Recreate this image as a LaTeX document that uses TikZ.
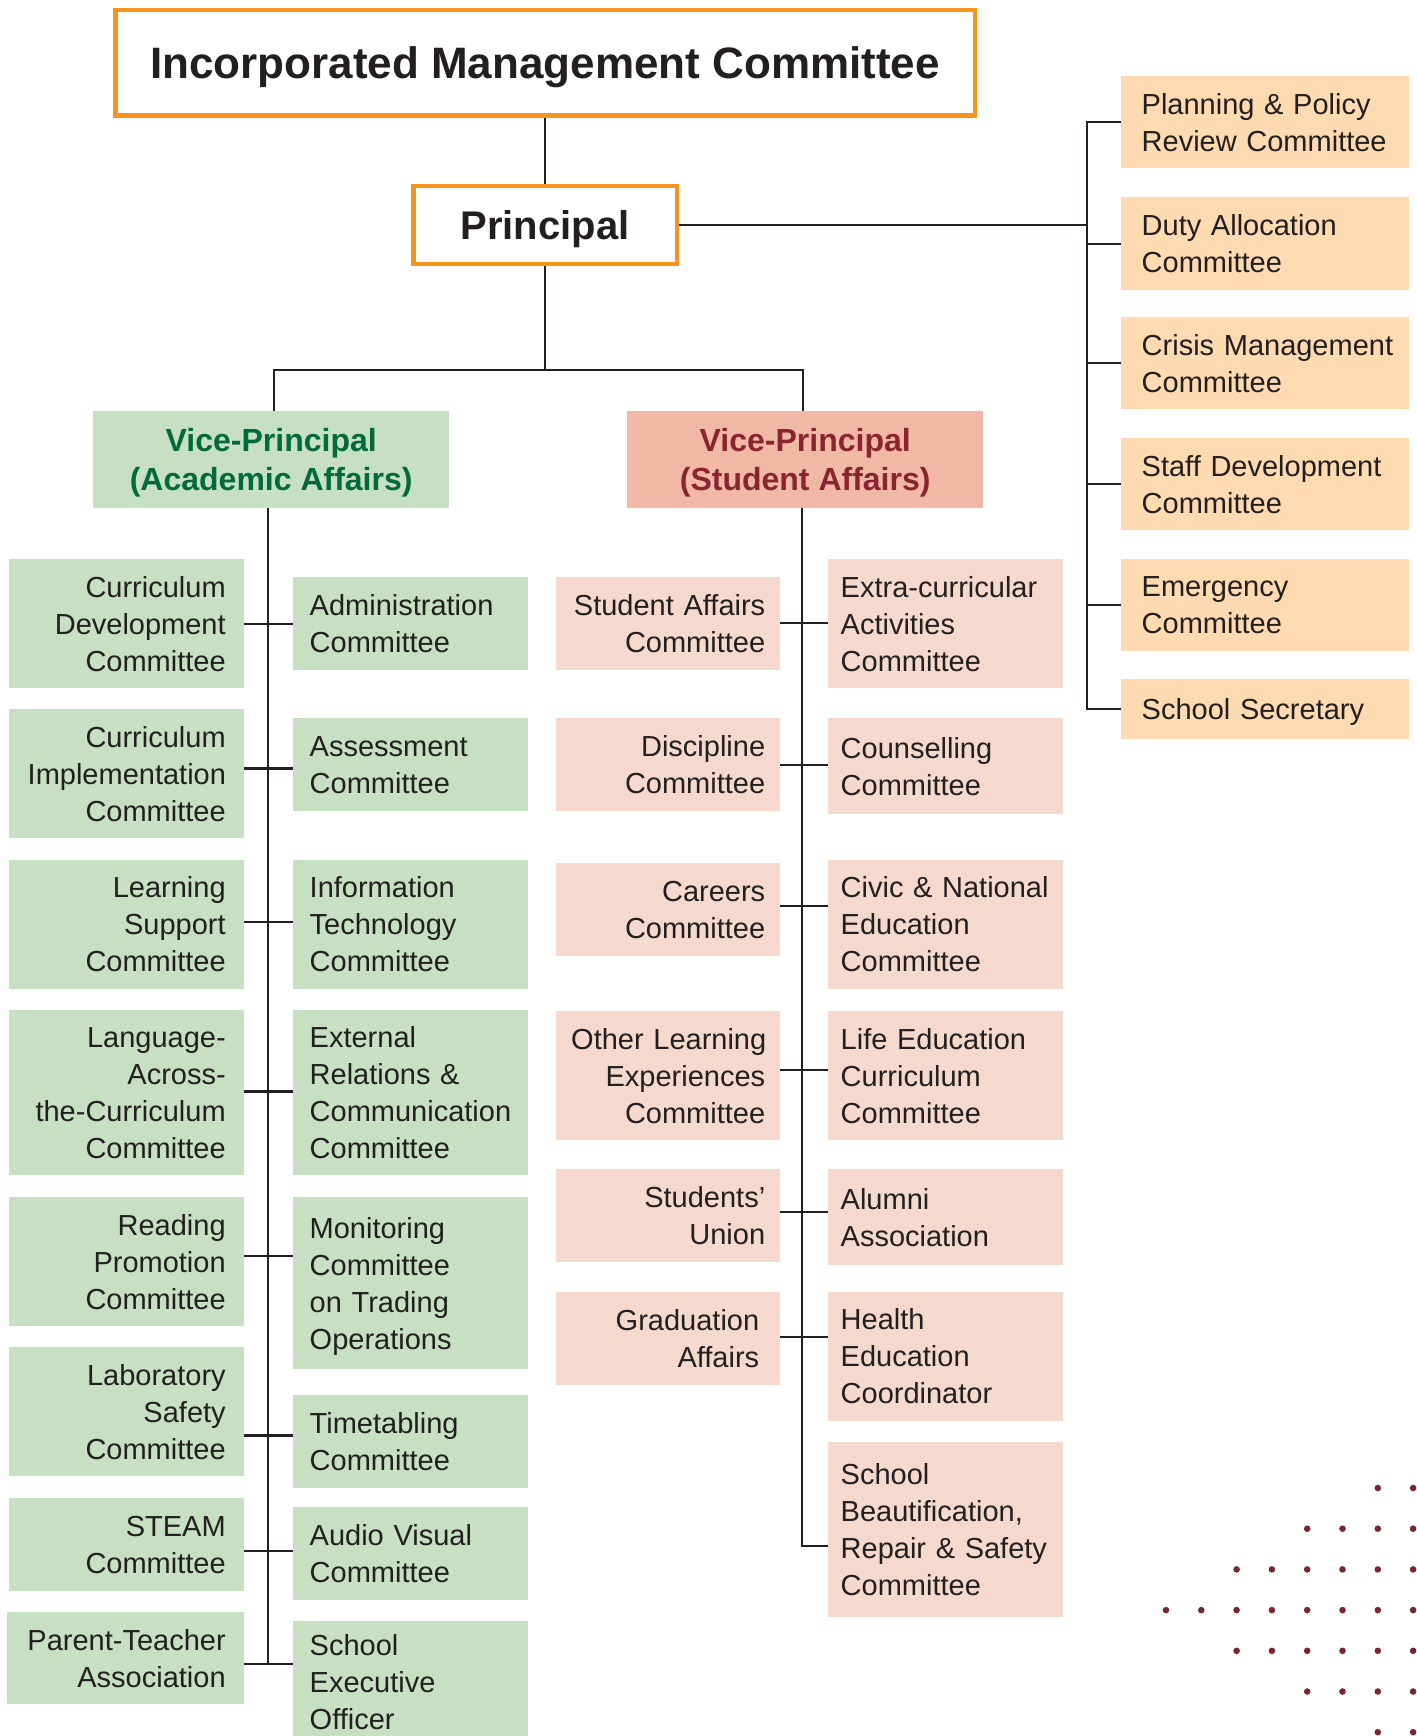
\documentclass[tikz,border=0pt]{standalone}
\usepackage{fontspec}
\setmainfont{Liberation Sans}
\usetikzlibrary{backgrounds}
\definecolor{txt}{HTML}{231F20}
\definecolor{linec}{HTML}{231F20}
\definecolor{orangeb}{HTML}{F7941D}
\definecolor{gfill}{HTML}{C7E0C1}
\definecolor{pfill}{HTML}{F6D9CD}
\definecolor{vpsfill}{HTML}{F0B8A5}
\definecolor{ofill}{HTML}{FDDAB0}
\definecolor{gtext}{HTML}{006A3A}
\definecolor{mtext}{HTML}{8A2430}
\definecolor{dotc}{HTML}{7B2530}
\hyphenpenalty=10000
\exhyphenpenalty=10000
\begin{document}
\begin{tikzpicture}[x=1pt,y=-1pt,
  conn/.style={draw=linec, line width=2.2pt},
  base/.style={inner ysep=0pt, anchor=north west, text=txt,
    font=\fontsize{29}{37}\selectfont},
  lg/.style={base, fill=gfill, minimum width=235, inner xsep=18.5pt, text width=198pt, align=right},
  rg/.style={base, fill=gfill, minimum width=235, inner xsep=16.5pt, text width=202pt, align=left},
  lp/.style={base, fill=pfill, minimum width=224, inner xsep=15pt, text width=194pt, align=right},
  rp/.style={base, fill=pfill, minimum width=235, inner xsep=12.5pt, text width=210pt, align=left},
  ob/.style={base, fill=ofill, minimum width=288, inner xsep=20.5pt, text width=247pt, align=left},
  topbox/.style={draw=orangeb, line width=4.5pt, fill=white, text=txt, inner sep=0pt, text depth=0pt},
  vpbox/.style={anchor=north west, minimum width=356, minimum height=96.5, inner sep=0pt,
    align=center, text depth=0pt, font=\fontsize{32}{39.5}\selectfont\bfseries},
]
\useasboundingbox (0,0) rectangle (1416,1736);

% top
\node[topbox, minimum width=859.5, minimum height=105.5, font=\fontsize{44}{52}\selectfont\bfseries] (imc) at (545,63) {Incorporated Management Committee};
\node[topbox, minimum width=263.5, minimum height=77.5, font=\fontsize{40}{48}\selectfont\bfseries] (pr) at (545,225) {Principal};

% vice-principals
\node[vpbox, fill=gfill, text=gtext] (vpa) at (93,411) {Vice-Principal\\(Academic Affairs)};
\node[vpbox, fill=vpsfill, text=mtext] (vps) at (627,411) {Vice-Principal\\(Student Affairs)};

% academic - left
\node[lg, minimum height=129] (cd) at (9,559) {Curriculum\\Development\\Committee};
\node[lg, minimum height=129] (ci) at (9,709) {Curriculum\\Implementation\\Committee};
\node[lg, minimum height=128.5] (ls) at (9,860) {Learning\\Support\\Committee};
\node[lg, minimum height=165] (lac) at (9,1010) {Language-\\Across-\\the-Curriculum\\Committee};
\node[lg, minimum height=129] (rpc) at (9,1197) {Reading\\Promotion\\Committee};
\node[lg, minimum height=129] (lab) at (9,1347) {Laboratory\\Safety\\Committee};
\node[lg, minimum height=93] (steam) at (9,1498) {STEAM\\Committee};
\node[lg, minimum height=92, minimum width=237, text width=200pt] (pta) at (7,1612) {Parent-Teacher\\Association};

% academic - right
\node[rg, minimum height=93] (adm) at (293,577) {Administration\\Committee};
\node[rg, minimum height=93] (ass) at (293,718) {Assessment\\Committee};
\node[rg, minimum height=128.5] (it) at (293,860) {Information\\Technology\\Committee};
\node[rg, minimum height=165] (ext) at (293,1010) {External\\Relations~\&\\Communication\\Committee};
\node[rg, minimum height=172, text depth=111pt] (mon) at (293,1197) {Monitoring\\Committee\\on~Trading\\Operations};
\node[rg, minimum height=93] (tt) at (293,1395) {Timetabling\\Committee};
\node[rg, minimum height=93] (av) at (293,1507) {Audio~Visual\\Committee};
\node[rg, minimum height=122] (seo) at (293,1621) {School\\Executive\\Officer};

% student - left
\node[lp, minimum height=93] (sa) at (556,577) {Student~Affairs\\Committee};
\node[lp, minimum height=93] (dis) at (556,718) {Discipline\\Committee};
\node[lp, minimum height=93] (car) at (556,863) {Careers\\Committee};
\node[lp, minimum height=129] (ole) at (556,1011) {Other~Learning\\Experiences\\Committee};
\node[lp, minimum height=93] (su) at (556,1169) {Students’\\Union};
\node[lp, minimum height=93, inner xsep=21pt, text width=182pt] (ga) at (556,1292) {Graduation\\Affairs};

% student - right
\node[rp, minimum height=129] (eca) at (828,559) {Extra-curricular\\Activities\\Committee};
\node[rp, minimum height=96] (cou) at (828,718) {Counselling\\Committee};
\node[rp, minimum height=128.5] (civ) at (828,860) {Civic~\&~National\\Education\\Committee};
\node[rp, minimum height=129] (life) at (828,1011) {Life~Education\\Curriculum\\Committee};
\node[rp, minimum height=96] (alu) at (828,1169) {Alumni\\Association};
\node[rp, minimum height=128.5] (hea) at (828,1292) {Health\\Education\\Coordinator};
\node[rp, minimum height=175] (sb) at (828,1442) {School\\Beautification,\\Repair~\&~Safety\\Committee};

% committees under principal
\node[ob, minimum height=92] (p1) at (1121,76) {Planning~\&~Policy\\Review~Committee};
\node[ob, minimum height=93] (p2) at (1121,197) {Duty~Allocation\\Committee};
\node[ob, minimum height=92] (p3) at (1121,317) {Crisis~Management\\Committee};
\node[ob, minimum height=92] (p4) at (1121,438) {Staff~Development\\Committee};
\node[ob, minimum height=92] (p5) at (1121,559) {Emergency\\Committee};
\node[ob, minimum height=60, text depth=0pt] (p6) at (1121,679) {School~Secretary};

% coordinates
\coordinate (bus) at (0,370);
\coordinate (dA) at (274,370);
\coordinate (dS) at (803,370);
\coordinate (sA) at (268,0);
\coordinate (sS) at (802,0);
\coordinate (sR) at (1087,0);
\coordinate (a1) at (0,624);   \coordinate (a2) at (0,768.5);
\coordinate (a3) at (0,922);   \coordinate (a4) at (0,1091.5);
\coordinate (a5) at (0,1256);  \coordinate (a6) at (0,1435.5);
\coordinate (a7) at (0,1551);  \coordinate (a8) at (0,1664);
\coordinate (b1) at (0,623);   \coordinate (b2) at (0,765);
\coordinate (b3) at (0,906);   \coordinate (b4) at (0,1070);
\coordinate (b5) at (0,1212);  \coordinate (b6) at (0,1337);
\coordinate (b7) at (0,1546);

\begin{pgfonlayer}{background}
  \draw[conn] (imc.south) -- (pr.north);
  \draw[conn] (pr.south) -- (pr.south |- bus);
  \draw[conn] (dA |- vpa.north) -- (dA) -- (dS) -- (dS |- vps.north);
  % right bracket
  \draw[conn] (pr.east) -- (pr.east -| sR);
  \draw[conn] (p1.west) -- (p1.west -| sR) -- (p6.west -| sR) -- (p6.west);
  \foreach \n in {p2,p3,p4,p5} \draw[conn] (\n.west -| sR) -- (\n.west);
  % academic spine
  \draw[conn] (sA |- vpa.south) -- (sA |- a8);
  \draw[conn] (cd.east |- a1) -- (adm.west |- a1);
  \draw[conn] (ci.east |- a2) -- (ass.west |- a2);
  \draw[conn] (ls.east |- a3) -- (it.west |- a3);
  \draw[conn] (lac.east |- a4) -- (ext.west |- a4);
  \draw[conn] (rpc.east |- a5) -- (mon.west |- a5);
  \draw[conn] (lab.east |- a6) -- (tt.west |- a6);
  \draw[conn] (steam.east |- a7) -- (av.west |- a7);
  \draw[conn] (pta.east |- a8) -- (seo.west |- a8);
  % student spine
  \draw[conn] (sS |- vps.south) -- (sS |- b7) -- (sb.west |- b7);
  \draw[conn] (sa.east |- b1) -- (eca.west |- b1);
  \draw[conn] (dis.east |- b2) -- (cou.west |- b2);
  \draw[conn] (car.east |- b3) -- (civ.west |- b3);
  \draw[conn] (ole.east |- b4) -- (life.west |- b4);
  \draw[conn] (su.east |- b5) -- (alu.west |- b5);
  \draw[conn] (ga.east |- b6) -- (hea.west |- b6);
\end{pgfonlayer}

% decorative dots
\foreach \j/\s in {0/6,1/4,2/2,3/0,4/2,5/4,6/6}
  \foreach \k in {\s,...,7}
    \fill[dotc] ({1166+35.3*\k},{1488+40.7*\j}) circle[radius=3.3pt];
\end{tikzpicture}
\end{document}
